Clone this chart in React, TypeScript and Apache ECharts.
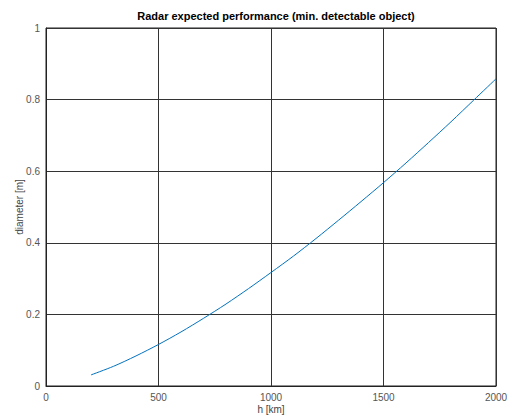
import React, { useEffect, useRef } from "react";
import * as echarts from "echarts";

const heights = [200, 300, 400, 500, 600, 700, 800, 900, 1000, 1100, 1200, 1300, 1400, 1500, 1600, 1700, 1800, 1900, 2000];
const diameters = [0.031, 0.055, 0.084, 0.116, 0.151, 0.189, 0.229, 0.272, 0.317, 0.363, 0.412, 0.463, 0.515, 0.568, 0.623, 0.68, 0.738, 0.798, 0.858];
const xTicks = [0, 500, 1000, 1500, 2000];
const yTicks = [0, 0.2, 0.4, 0.6, 0.8, 1];

export default function App() {
  const ref = useRef<HTMLDivElement>(null);
  useEffect(() => {
    document.body.style.margin = "0";
    const chart = echarts.init(ref.current!, null, { renderer: "svg" });
    const font = "'Liberation Sans', Arial, sans-serif";
    chart.setOption({
      animation: false,
      backgroundColor: "#fff",
      title: {
        text: "Radar expected performance (min. detectable object)",
        left: 271,
        textAlign: "center",
        top: 5,
        textStyle: { fontFamily: font, fontSize: 11, fontWeight: "bold", color: "#000" },
      },
      grid: {
        left: 46,
        right: 18,
        top: 28,
        bottom: 30,
        containLabel: false,
        outerBoundsMode: "none",
        show: true,
        borderColor: "#222",
        borderWidth: 1,
      },
      xAxis: {
        type: "value",
        min: 0,
        max: 2000,
        interval: 500,
        name: "h [km]",
        nameLocation: "middle",
        nameGap: 18,
        nameMoveOverlap: false,
        nameTextStyle: { fontFamily: font, fontSize: 10, color: "#444" },
        axisLine: { show: true, lineStyle: { color: "#222" } },
        axisTick: { show: false },
        axisLabel: {
          fontFamily: font,
          fontSize: 10,
          color: "#555",
          margin: 6,
          formatter: (v: number) => (xTicks.includes(v) ? String(v) : ""),
        },
        splitLine: { show: true, lineStyle: { color: "#333", width: 1 } },
      },
      yAxis: {
        type: "value",
        min: 0,
        max: 1,
        interval: 0.2,
        name: "diameter [m]",
        nameLocation: "middle",
        nameGap: 22,
        nameMoveOverlap: false,
        nameTextStyle: { fontFamily: font, fontSize: 10, color: "#444" },
        axisLine: { show: true, lineStyle: { color: "#222" } },
        axisTick: { show: false },
        axisLabel: {
          fontFamily: font,
          fontSize: 10,
          color: "#555",
          margin: 6,
          formatter: (v: number) => (yTicks.some((t) => Math.abs(t - v) < 1e-9) ? String(+v.toFixed(1)) : ""),
        },
        splitLine: { show: true, lineStyle: { color: "#333", width: 1 } },
      },
      series: [
        {
          type: "line",
          data: heights.map((h, i) => [h, diameters[i]]),
          smooth: 0.3,
          showSymbol: false,
          lineStyle: { color: "#0072BD", width: 1 },
        },
      ],
    });
    return () => chart.dispose();
  }, []);
  return <div ref={ref} style={{ width: 514, height: 416 }} />;
}
